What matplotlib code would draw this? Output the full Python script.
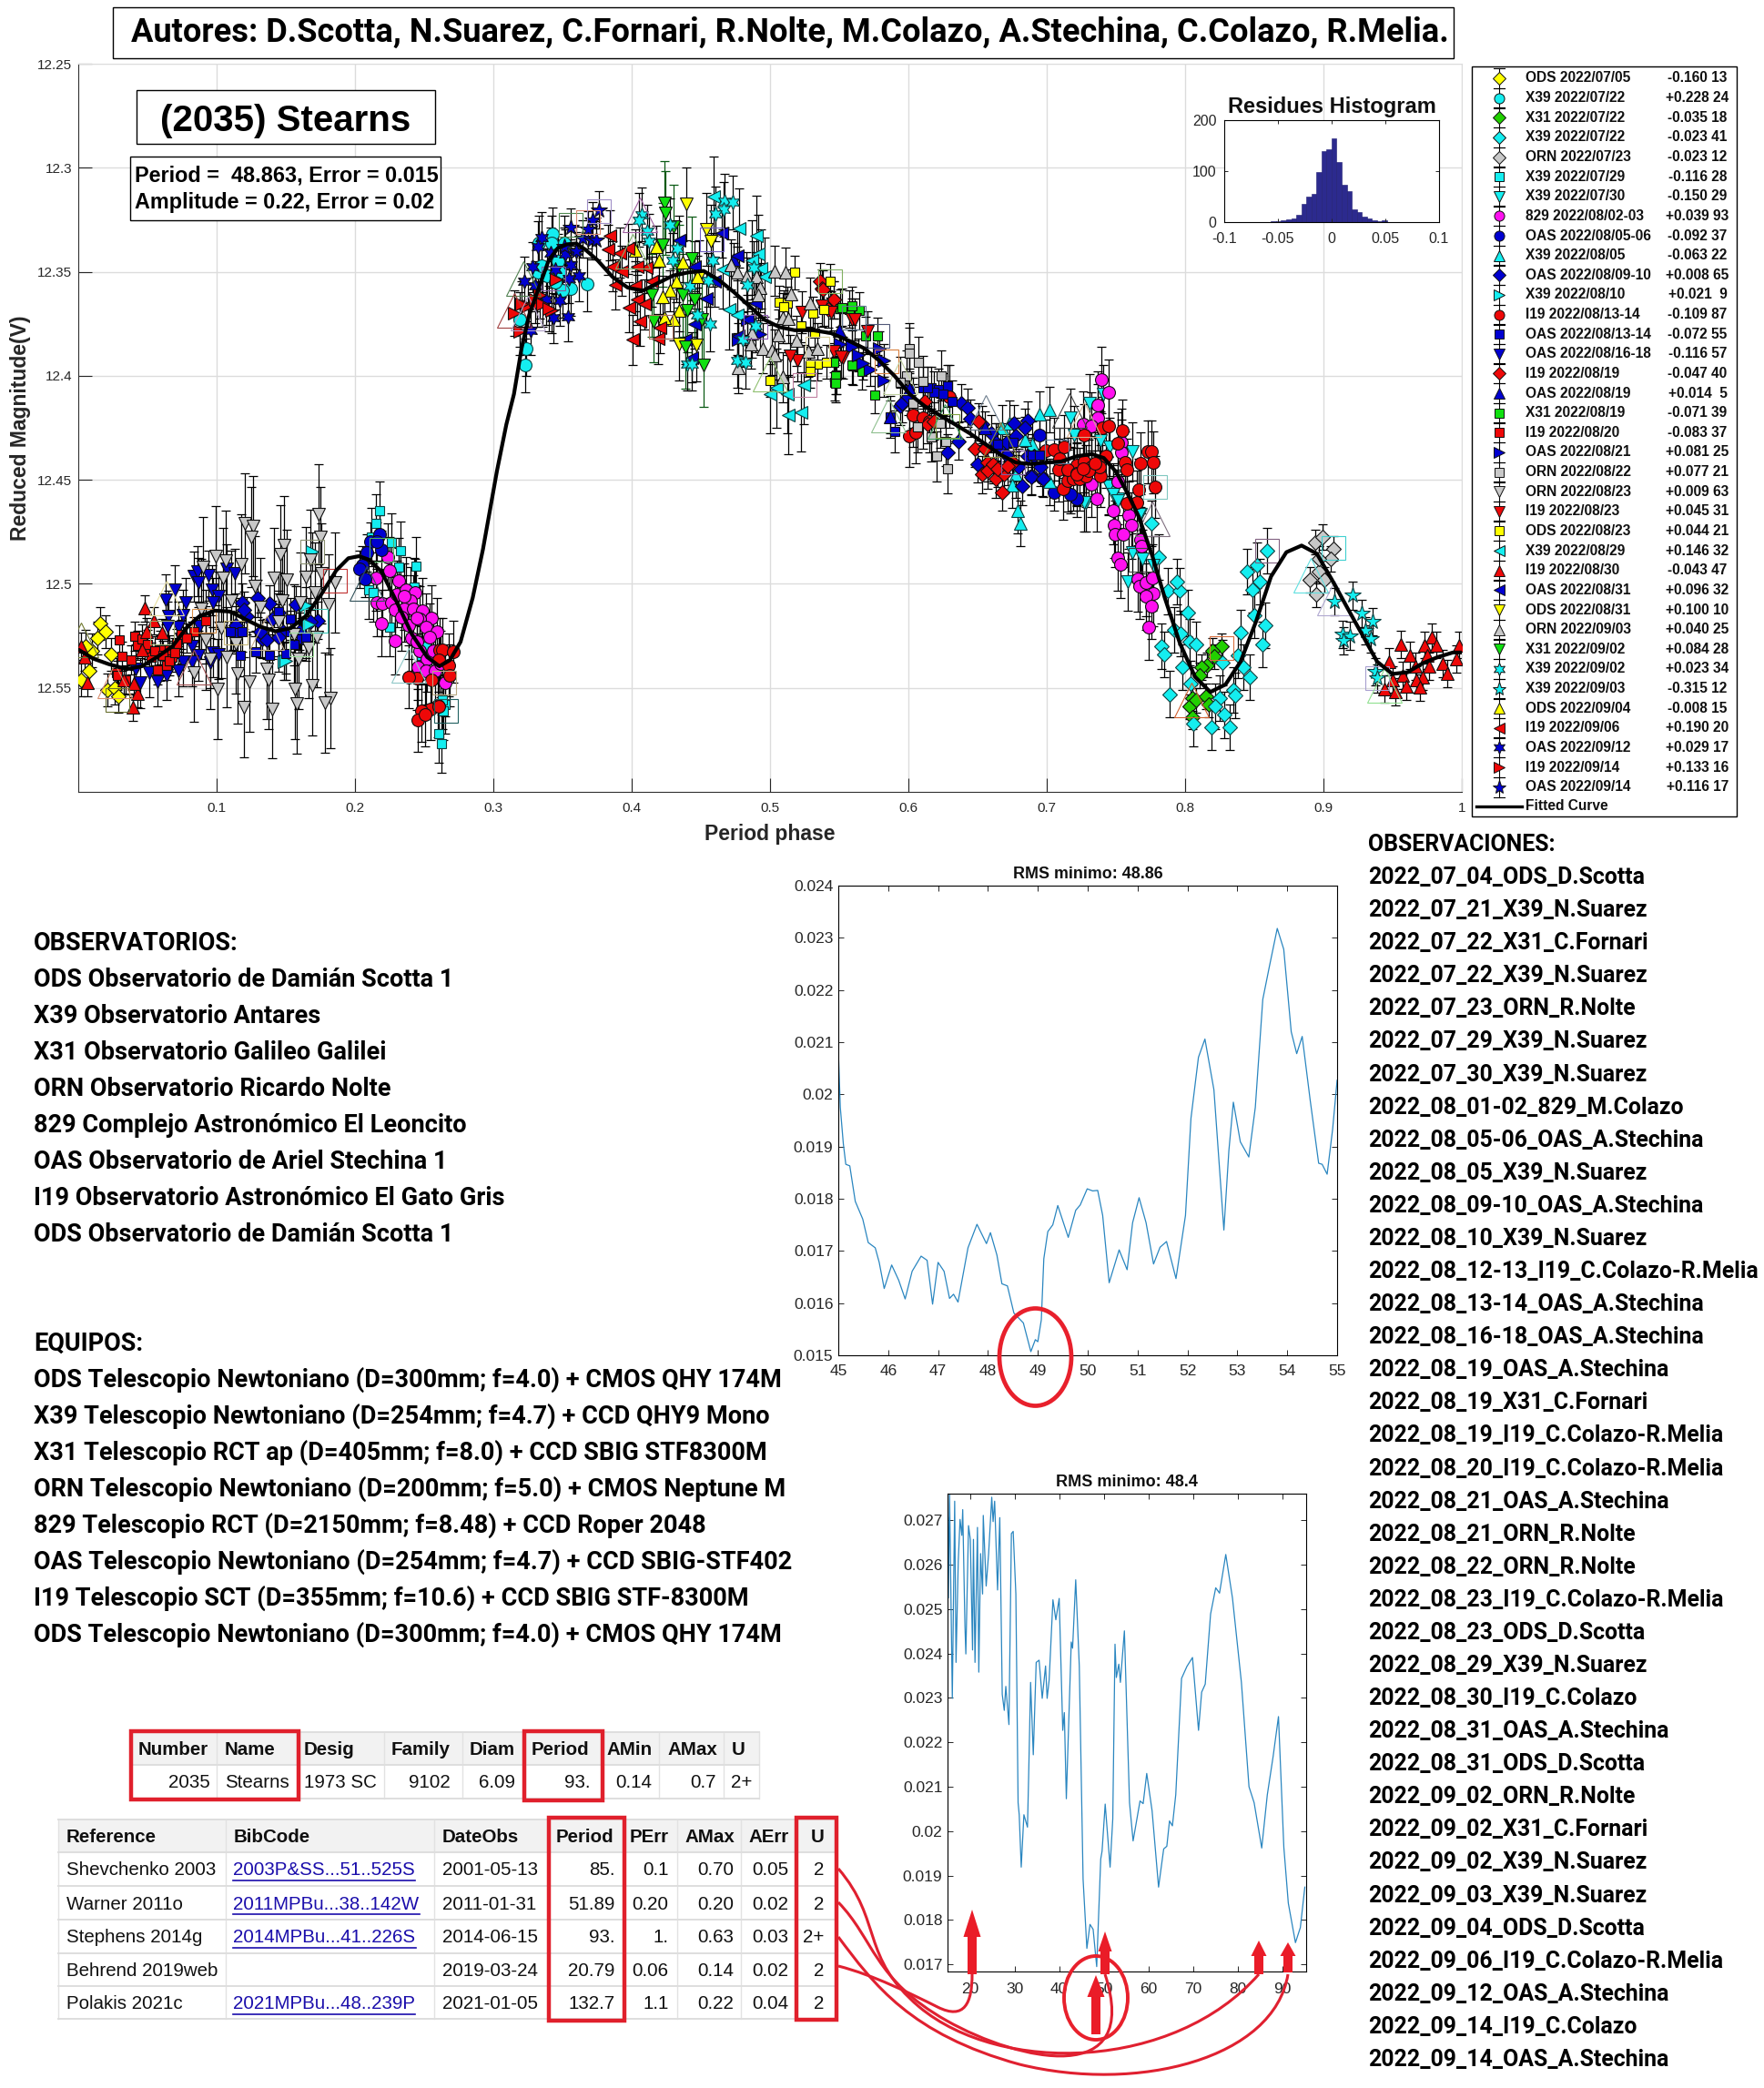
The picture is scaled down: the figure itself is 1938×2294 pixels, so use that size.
import numpy as np
import matplotlib
matplotlib.use("Agg")
import matplotlib.pyplot as plt
from matplotlib.patches import Rectangle, Ellipse, PathPatch, Polygon
from matplotlib.path import Path

W, H = 1938, 2294
SANS = ["Liberation Sans", "DejaVu Sans"]
NARROW = ["Roboto", "DejaVu Sans"]
plt.rcParams["font.family"] = SANS

# -----------------------------
# Lightcurve sessions (phase, reduced magnitude)
# -----------------------------
ods0705_x = [.016,.020,.014,.010,.024,.008,.002,.021,.026,.029,.005]
ods0705_y = [12.519,12.523,12.526,12.532,12.534,12.542,12.546,12.551,12.550,12.554,12.530]
x39a_x = [.323,.324,.368,.356,.350,.343,.342,.351,.333,.332,.335,.339,.347,.348,.345,.319]
x39a_y = [12.395,12.387,12.356,12.358,12.359,12.332,12.336,12.336,12.336,12.350,12.347,12.352,12.345,12.350,12.355,12.373]
x31a_x = [.8265,.820,.821,.816,.812,.8105,.805,.803,.808,.815,.817,.805]
x31a_y = [12.530,12.532,12.535,12.539,12.540,12.544,12.555,12.559,12.556,12.554,12.558,12.564]
x39b_x = [.7754,.781,.7875,.796,.794,.802,.792,.797,.803,.808,.783,.785,.798,.804,.789,.827,.838,.842,.847,.835,.836,.825,.822,.828,.806,.819,.832,.840,.850,.849,.854,.845,.852,.859,.858,.856]
x39b_y = [12.471,12.487,12.5035,12.5035,12.499,12.514,12.522,12.524,12.528,12.529,12.530,12.534,12.540,12.548,12.553,12.538,12.5345,12.540,12.545,12.551,12.5535,12.555,12.559,12.563,12.567,12.569,12.569,12.5235,12.515,12.503,12.499,12.494,12.491,12.484,12.520,12.529]
orn0723_x = [.894,.8995,.9075,.9055,.897,.9005,.890,.895,.897]
orn0723_y = [12.480,12.4775,12.483,12.488,12.494,12.498,12.498,12.505,12.488]
x39c_x = [.2175,.2154,.2116,.226,.233,.2314,.244,.243,.210,.2134,.225,.251,.248,.265,.263,.2606,.2625,.264]
x39c_y = [12.465,12.471,12.4775,12.480,12.484,12.492,12.4917,12.5016,12.503,12.504,12.5206,12.530,12.5345,12.558,12.556,12.572,12.577,12.561]
x39d_x = [.717,.731,.741,.720,.739,.7456,.762,.728,.7445,.748,.751,.7675,.727,.745,.748,.7515,.762,.769,.777,.7586,.767]
x39d_y = [12.420,12.413,12.409,12.4285,12.431,12.434,12.4365,12.461,12.4526,12.456,12.459,12.4665,12.461,12.453,12.457,12.460,12.485,12.488,12.491,12.499,12.4665]
m829_x = [.2237,.2248,.215,.2314,.216,.220,.226,.230,.237,.2434,.240,.229,.2357,.242,.249,.2555,.2467,.251,.2594,.239,.219,.2287,.241,.2467,.252,.2456,.251,.2577,.2654,.2355,.2445,.2335,.254,.2565,.2445,.262,
          .7395,.745,.737,.737,.726,.7325,.754,.754,.7325,.736,.751,.748,.759,.761,.749,.7496,.7555,.751,.7535,.7656,.767,.7715,.776,.777,.772,.7754,.774,.768,.7686]
m829_y = [12.487,12.4936,12.497,12.4987,12.509,12.5094,12.509,12.505,12.503,12.504,12.508,12.5126,12.512,12.512,12.513,12.5165,12.517,12.5206,12.523,12.520,12.519,12.5275,12.526,12.532,12.536,12.540,12.542,12.542,12.5477,12.506,12.5165,12.516,12.5255,12.532,12.528,12.5385,
          12.402,12.408,12.414,12.420,12.4234,12.424,12.432,12.437,12.452,12.459,12.451,12.465,12.467,12.472,12.4716,12.476,12.476,12.4874,12.4906,12.4975,12.501,12.4994,12.497,12.5045,12.506,12.5107,12.5206,12.479,12.482]
oas0805_x = [.2175,.211,.219,.2083,.205,.2033,.2072,.216,.6947,.705,.7215,.717,.6886,.697]
oas0805_y = [12.476,12.4797,12.4836,12.485,12.491,12.493,12.4975,12.4797,12.4285,12.456,12.459,12.457,12.448,12.449]
x39e_x = [.7018,.695,.6787,.681,.6897,.684,.668,.6732,.6776,.7018,.675]
x39e_y = [12.4164,12.4186,12.4646,12.471,12.433,12.4307,12.425,12.4227,12.4475,12.451,12.4526]
oas0809_x = [.1184,.1217,.1294,.138,.1447,.1327,.136,.157,.1732,.168,.148,.112,.114,.1195,.1316,.1404,.1447,.16,.5943,.650,.6765,.6864,.684,.6776,.6825,.6886,.6974,.628,.638,.6425,.636,.663,.671,.6864,.6667,.6798,.671,.6447,.6535,.66,.6908,.6952,.5954,.6]
oas0809_y = [12.509,12.5155,12.507,12.5096,12.5137,12.5265,12.527,12.51,12.5177,12.5184,12.5228,12.5228,12.5199,12.5126,12.5228,12.517,12.5257,12.5228,12.4146,12.4424,12.423,12.4215,12.425,12.429,12.453,12.4485,12.4494,12.437,12.413,12.4154,12.4314,12.432,12.438,12.4387,12.4336,12.4439,12.432,12.4205,12.4234,12.4278,12.4387,12.4439,12.4132,12.41]
x39f_x = [.169,.1487,.1667,.15,.1645]
x39f_y = [12.4845,12.5374,12.5196,12.537,12.5104]
i19a_x = [.261,.263,.271,.2605,.2675,.2686,.2555,.2445,.239,.26,.2544,.248,.2455,.2506,.2606,
          .6294,.6031,.6009,.605,.6107,.615,.6996,.705,.7127,.7083,.7116,.715,.7193,.7237,.728,.7215,.727,.7325,.7386,.738,.7425,.727,.74,.7445,.7544,.751,.7566,.7577,.768,.773,.7755,.777,.7785,.7665,.7654,.7577,.715,.722,.73,.735,.7215,.709,.726]
i19a_y = [12.5316,12.5316,12.5327,12.5367,12.539,12.544,12.546,12.5455,12.5447,12.5586,12.56,12.561,12.5656,12.563,12.559,
          12.41,12.419,12.429,12.427,12.42,12.422,12.436,12.4354,12.434,12.4453,12.4544,12.4504,12.4497,12.4497,12.4482,12.443,12.441,12.4439,12.4482,12.4439,12.4387,12.4285,12.425,12.424,12.4263,12.4325,12.4417,12.4453,12.442,12.4365,12.4365,12.4417,12.4534,12.4548,12.4607,12.4614,12.445,12.447,12.4455,12.442,12.4475,12.44,12.4445]
oas0813_x = [.1173,.128,.138,.15,.114,.1535,.161,.1645,.1557,.1447,.1096,.1184,.1535,.1645,.5866,.59,.6009,.6107,.6167,.6217,.6283,.625,.6645,.6897,.695,.6754,.6184,.614,.6316]
oas0813_y = [12.5345,12.5326,12.5345,12.5333,12.5235,12.517,12.5265,12.527,12.529,12.5133,12.5228,12.5228,12.5228,12.5257,12.4197,12.4268,12.4066,12.4056,12.4056,12.4066,12.4048,12.4088,12.433,12.438,12.438,12.432,12.408,12.4058,12.4124]
oas0816_x = [.0697,.0632,.0774,.065,.0757,.0833,.086,.0943,.0866,.0965,.101,.0976,.107,.113,.0724,.0822,.0866,.0976,.101,.0954,.0822,.0757,.0724,.0636,.057,.0515,.045,.0417,.0647,.0878,.0746,.0922,.0592]
oas0816_y = [12.503,12.5075,12.509,12.5155,12.515,12.4965,12.494,12.496,12.4994,12.503,12.506,12.509,12.493,12.495,12.5206,12.53,12.5345,12.533,12.5338,12.538,12.5374,12.5374,12.542,12.544,12.547,12.5425,12.5477,12.541,12.5205,12.5205,12.5265,12.5265,12.5345]
i19b_x = [.6507,.6535,.6678,.6634,.669,.657,.648,.6754,.5364,.5375,.5463,.5419,.5384,.5461,.655,.6575,.6615,.6645,.672,.6118,.614,.6184]
i19b_y = [12.422,12.4475,12.456,12.4497,12.4475,12.4417,12.435,12.4417,12.3547,12.358,12.3635,12.368,12.3583,12.3635,12.435,12.4455,12.4425,12.4445,12.4435,12.4124,12.4234,12.4219]
oas0819_x = [.4739,.5866,.6009,.55,.655]
oas0819_y = [12.344,12.4197,12.406,12.378,12.425]
x31b_x = [.5757,.569,.5776,.5596,.5662,.5465,.5478,.5509,.5643,.557,.5474,.5474,.5463,.5594,.5518,.5594]
x31b_y = [12.4092,12.3807,12.381,12.3953,12.3978,12.403,12.3996,12.3675,12.3686,12.368,12.40,12.4037,12.3934,12.395,12.3671,12.3664]
i19c_x = [.0296,.0406,.0428,.0318,.0384,.0274,.0285,.034,.0482,.0526,.068,.057,.0636,.0592,.0746,.0833,.0921,.0713,.0658,.046,.05,.055,.061,.066,.07,.078]
i19c_y = [12.5268,12.525,12.5294,12.5348,12.5367,12.5425,12.544,12.5462,12.5316,12.5352,12.5352,12.5415,12.539,12.5316,12.5243,12.5228,12.5177,12.5287,12.5316,12.5264,12.529,12.532,12.5345,12.537,12.533,12.526]
oas0821_x = [.579,.5822,.5724,.5822,.567,.5592,.5504,.5636,.4772,.4838,.4925]
oas0821_y = [12.3868,12.3927,12.397,12.4022,12.394,12.386,12.3846,12.39,12.3825,12.373,12.380]
orn0822_x = [.6009,.6004,.607,.5987,.6107,.6235,.6064,.6162,.6206,.6283,.6268,.6228,.603,.5943]
orn0822_y = [12.3868,12.389,12.3934,12.40,12.4026,12.40,12.4246,12.4292,12.4387,12.4446,12.4314,12.4227,12.413,12.403]
orn0823_x = [.1206,.1265,.125,.0993,.1068,.1178,.0904,.1048,.149,.1458,.1737,.1748,.1678,.1414,.1507,.1645,.1278,.1754,.1853,.171,.1107,.1474,.1607,.181,.1316,.0888,.1447,.103,.0921,.114,.1557,.1726,.1662,.0954,.1075,.159,.0833,.1364,.115,.1239,.1377,.1009,.1564,.1693,.182,.178,.158,.1195,.1404]
orn0823_y = [12.471,12.4724,12.4775,12.4865,12.489,12.4906,12.492,12.497,12.4816,12.486,12.4665,12.4775,12.4885,12.497,12.498,12.4968,12.5012,12.495,12.4994,12.5042,12.508,12.508,12.509,12.51,12.5114,12.512,12.5184,12.5213,12.527,12.5287,12.5243,12.5257,12.531,12.536,12.5352,12.536,12.5425,12.541,12.543,12.547,12.546,12.5506,12.5506,12.5488,12.555,12.557,12.5576,12.5594,12.56]
i19d_x = [.5594,.5529,.5463,.52,.5145,.5232,.5375,.5441,.561,.5515,.5702]
i19d_y = [12.373,12.3912,12.3883,12.3927,12.3905,12.3693,12.3664,12.3693,12.373,12.391,12.3788]
ods0823_x = [.5178,.5436,.5068,.5123,.51,.5309,.5386,.5221,.532,.5342,.541,.5287,.5287,.5002]
ods0823_y = [12.3503,12.3544,12.3646,12.365,12.367,12.37,12.368,12.3759,12.3795,12.3942,12.3934,12.3942,12.3978,12.4022]
x39g_x = [.4592,.4778,.4899,.4914,.487,.4936,.4958,.4658,.4702,.476,.5243,.5123,.5002,.5221,.5134,.5046]
x39g_y = [12.3137,12.3291,12.3325,12.3415,12.3444,12.3485,12.3525,12.3488,12.3683,12.3708,12.4044,12.4088,12.4088,12.4175,12.4187,12.4058]
i19e_x = [.9557,.9476,.9623,.9783,.9728,.9816,.9981,.975,.9662,.9859,.9958,.9893,.976,.9575,.9717,.9673,.9695,.9596,.9498,.9443,.952,
          .0482,.0548,.0603,.0493,.046,.0022,.0044,.0066,.0329,.0428,.0395,.04]
i19e_y = [12.5291,12.5374,12.5345,12.5257,12.5294,12.5294,12.5294,12.5345,12.5396,12.5382,12.536,12.543,12.5396,12.544,12.5447,12.546,12.5499,12.5494,12.546,12.5506,12.552,
          12.5118,12.5177,12.5235,12.5228,12.5316,12.53,12.5352,12.5477,12.5462,12.5528,12.5594,12.548]
oas0831_x = [.4344,.4651,.4761,.4454,.4542,.4596,.4454,.4388,.4772,.4893,.4838,.4432]
oas0831_y = [12.335,12.3313,12.3423,12.3474,12.3627,12.3547,12.3751,12.3825,12.381,12.365,12.373,12.3912]
ods0831_x = [.4393,.4542,.4575,.4344,.4465,.4487]
ods0831_y = [12.3174,12.3295,12.3354,12.3846,12.3854,12.3525]
orn0903_x = [.5031,.5112,.4717,.4765,.4827,.4904,.4925,.4914,.5151,.5287,.509,.5134,.487,.486,.4947,.5013,.5057,.5035,.5189,.5276,.5342,.4772,.509]
orn0903_y = [12.3496,12.3503,12.3466,12.35,12.3525,12.3525,12.3576,12.3613,12.3608,12.3649,12.3722,12.3725,12.3795,12.3846,12.3868,12.3876,12.3803,12.3898,12.3832,12.3883,12.3868,12.3963,12.4007]
x31c_x = [.4235,.4246,.43,.4224,.4432,.4344,.4147,.4366,.4454,.4399,.4388,.452,.4158,.4509]
x31c_y = [12.317,12.3218,12.3284,12.3371,12.3437,12.3474,12.3613,12.3613,12.3635,12.3686,12.3861,12.3949,12.3737,12.373]
x39h_x = [.407,.4055,.4114,.4125,.4279,.4294,.4673,.4732,.4662,.4603,.4327,.4421,.4553,.4586,.4838,.4882,.4893,.4805,.4564,.4476,.4399,.4436,.4765,.4822]
x39h_y = [12.3225,12.3251,12.3306,12.3354,12.3276,12.3444,12.3159,12.3167,12.32,12.3222,12.3386,12.3569,12.354,12.3444,12.3561,12.3481,12.3759,12.3825,12.3751,12.3708,12.3942,12.3942,12.3927,12.3934]
x39i_x = [.9077,.9208,.9278,.9355,.93,.934,.9136,.9191,.9147,.9373,.9388]
x39i_y = [12.5085,12.5057,12.5143,12.5181,12.5225,12.5265,12.5243,12.525,12.5272,12.5423,12.5455]
ods0904_x = [.4026,.418,.4197,.4322,.4279,.4224,.434,.43,.4235,.4366,.4476]
ods0904_y = [12.3398,12.3379,12.3444,12.3547,12.3591,12.362,12.3686,12.373,12.3722,12.3452,12.3525]
i19f_x = [.384,.3829,.3971,.3917,.3862,.4103,.4037,.3928,.3884,.4026,.4037,.3982,.4092,.4059,.4202,.4004,.4191,.4147]
i19f_y = [12.3325,12.3393,12.339,12.3408,12.3474,12.3481,12.3477,12.3496,12.3561,12.3569,12.3635,12.3671,12.3656,12.3737,12.377,12.3827,12.3822,12.3547]
oas0912_x = [.3346,.3325,.3412,.3522,.3599,.3281,.3221,.3303,.3559,.3621,.3544,.3478,.3379,.3434,.3537,.327,.3445]
oas0912_y = [12.3335,12.3379,12.3408,12.3415,12.3401,12.3477,12.3547,12.3569,12.3466,12.352,12.3532,12.3639,12.3635,12.3722,12.3715,12.3781,12.3488]
i19g_x = [.3149,.3193,.3248,.3204,.3314,.3336,.3423,.3456,.3303,.3357,.3401]
i19g_y = [12.37,12.3788,12.3664,12.3656,12.3656,12.3613,12.3686,12.3539,12.3635,12.3656,12.3678]
oas0914_x = [.3559,.3763,.3719,.3682,.3642,.3708,.3741,.3599,.351]
oas0914_y = [12.3287,12.3203,12.3254,12.3298,12.3342,12.3349,12.3349,12.34,12.3379]

legend_names = ["ODS 2022/07/05","X39 2022/07/22","X31 2022/07/22","X39 2022/07/22","ORN 2022/07/23","X39 2022/07/29","X39 2022/07/30",
                "829 2022/08/02-03","OAS 2022/08/05-06","X39 2022/08/05","OAS 2022/08/09-10","X39 2022/08/10","I19 2022/08/13-14",
                "OAS 2022/08/13-14","OAS 2022/08/16-18","I19 2022/08/19","OAS 2022/08/19","X31 2022/08/19","I19 2022/08/20","OAS 2022/08/21",
                "ORN 2022/08/22","ORN 2022/08/23","I19 2022/08/23","ODS 2022/08/23","X39 2022/08/29","I19 2022/08/30","OAS 2022/08/31",
                "ODS 2022/08/31","ORN 2022/09/03","X31 2022/09/02","X39 2022/09/02","X39 2022/09/03","ODS 2022/09/04","I19 2022/09/06",
                "OAS 2022/09/12","I19 2022/09/14","OAS 2022/09/14"]
legend_vals = ["-0.160 13","+0.228 24","-0.035 18","-0.023 41","-0.023 12","-0.116 28","-0.150 29","+0.039 93","-0.092 37","-0.063 22",
               "+0.008 65","+0.021  9","-0.109 87","-0.072 55","-0.116 57","-0.047 40","+0.014  5","-0.071 39","-0.083 37","+0.081 25",
               "+0.077 21","+0.009 63","+0.045 31","+0.044 21","+0.146 32","-0.043 47","+0.096 32","+0.100 10","+0.040 25","+0.084 28",
               "+0.023 34","-0.315 12","-0.008 15","+0.190 20","+0.029 17","+0.133 16","+0.116 17"]
session_x = [ods0705_x,x39a_x,x31a_x,x39b_x,orn0723_x,x39c_x,x39d_x,m829_x,oas0805_x,x39e_x,oas0809_x,x39f_x,i19a_x,oas0813_x,oas0816_x,i19b_x,oas0819_x,
             x31b_x,i19c_x,oas0821_x,orn0822_x,orn0823_x,i19d_x,ods0823_x,x39g_x,i19e_x,oas0831_x,ods0831_x,orn0903_x,x31c_x,x39h_x,x39i_x,ods0904_x,i19f_x,oas0912_x,i19g_x,oas0914_x]
session_y = [ods0705_y,x39a_y,x31a_y,x39b_y,orn0723_y,x39c_y,x39d_y,m829_y,oas0805_y,x39e_y,oas0809_y,x39f_y,i19a_y,oas0813_y,oas0816_y,i19b_y,oas0819_y,
             x31b_y,i19c_y,oas0821_y,orn0822_y,orn0823_y,i19d_y,ods0823_y,x39g_y,i19e_y,oas0831_y,ods0831_y,orn0903_y,x31c_y,x39h_y,x39i_y,ods0904_y,i19f_y,oas0912_y,i19g_y,oas0914_y]
session_err = [.008,.013,.006,.011,.006,.014,.014,.016,.009,.011,.009,.009,.015,.010,.012,.009,.008,.009,.007,.008,.012,.024,.010,.008,.019,.0065,.012,.0175,.012,.020,.013,.0066,.010,.012,.012,.011,.009]
session_marker = ["D","o","D","D","D","s","v","o","o","^","D",">","o","s","v","D","^","s","s",">","s","v","v","s","<","^","<","v","^","v",(6,1,0),"*","^","<",(6,1,0),">","*"]
YEL, CYA, GRN, MAG, BLU, RED, GRY = "#FFFF00", "#14EEF0", "#22D000", "#FF10F0", "#0000D0", "#EE0808", "#C8C8C8"
session_color = [YEL,CYA,GRN,CYA,GRY,CYA,CYA,MAG,BLU,CYA,BLU,CYA,RED,BLU,BLU,RED,BLU,"#10E010",RED,BLU,GRY,GRY,RED,YEL,CYA,RED,BLU,YEL,GRY,"#10E010",CYA,CYA,YEL,RED,BLU,RED,BLU]

# big thin open markers at the start of each session
open_sq_x = [.0603,.091,.114,.169,.1853,.172,.161,.219,.2647,.2658,.0285,.3559,.3686,.3763,.3434,.4208,.4581,.4893,.5436,.5248,.5342,.5603,.5776,.584,.6283,.6754,.7072,.7785,.859,.9075,.7677,.8263,.9388]
open_sq_y = [12.5235,12.5177,12.5235,12.4845,12.4987,12.5177,12.529,12.4836,12.5477,12.561,12.556,12.3276,12.3262,12.3208,12.3532,12.3766,12.3346,12.3766,12.3544,12.4044,12.3868,12.3719,12.381,12.393,12.4241,12.4417,12.4363,12.4534,12.484,12.4826,12.4885,12.531,12.5452]
open_sq_c = ["#9aa86a","#d8904a","#c8b878","#8a9070","#c03030","#40c8b8","#a0e0a0","#50b060","#b8a880","#206060","#6a7030","#508a50","#d88a70","#a090c8","#8060a0","#a87060","#7060c0","#9060b0","#80b060","#c080a0","#d8d0a0","#607890","#505878","#d88040","#80a040","#8060a0","#6080a0","#80c8c0","#806080","#40d0d0","#404040","#d87040","#a8a0d0"]
open_tr_x = [.002,.0263,.0636,.0833,.136,.2083,.239,.4059,.3215,.3149,.3248,.4004,.5002,.5855,.5943,.6557,.6667,.6261,.7167,.7272,.776,.8046,.8906,.9081,.9443]
open_tr_y = [12.527,12.5465,12.507,12.54,12.5235,12.5,12.539,12.3225,12.3532,12.3686,12.37,12.34,12.3993,12.419,12.4007,12.4175,12.4307,12.422,12.4168,12.4212,12.4687,12.556,12.4958,12.5067,12.549]
open_tr_c = ["#707830","#d89070","#e8e0a0","#a05050","#c8b090","#305058","#90c8c8","#a060a0","#508050","#a04040","#b0a0c8","#80b070","#90c070","#90c090","#c0d0a0","#708090","#8a9040","#40a060","#404040","#d0b090","#807080","#d06030","#60e0e0","#b0a8d0","#90e090"]

# fitted curve
fit_x = [0,.011,.022,.035,.046,.057,.068,.079,.0877,.0987,.1096,.1206,.1316,.1425,.1535,.1645,.1754,.1864,.1952,.2029,.2105,.2193,.2303,.2412,.2522,.261,.2686,.2763,.2851,.2925,.3026,.3094,.3149,.3204,.3259,.3325,.3401,.3467,.3533,.3599,.3664,.3752,.3862,.3971,.4081,.4191,.43,.441,.452,.4629,.4739,.4849,.4958,.5068,.5178,.5309,.5441,.5572,.568,.5789,.5899,.6009,.6118,.6228,.6338,.6447,.6557,.6667,.6776,.6886,.6996,.7105,.7215,.7325,.7412,.75,.7588,.7667,.7765,.7853,.7963,.8072,.8182,.8292,.8401,.8511,.8621,.8732,.8842,.8952,.9061,.9169,.9279,.9388,.9498,.9608,.9717,.9827,.9936,1]
fit_y = [12.5316,12.536,12.5386,12.541,12.5396,12.5352,12.5301,12.5206,12.5155,12.5129,12.5133,12.517,12.5206,12.5228,12.5213,12.5155,12.5053,12.4936,12.4877,12.4867,12.4885,12.4943,12.5089,12.5243,12.5352,12.5396,12.5367,12.5279,12.5067,12.4834,12.4458,12.4234,12.4088,12.3868,12.3708,12.3583,12.3444,12.3386,12.3368,12.3364,12.3393,12.3444,12.3525,12.3576,12.3591,12.3554,12.3518,12.3503,12.3496,12.3539,12.3598,12.3664,12.373,12.3766,12.3781,12.3781,12.3795,12.3832,12.3868,12.3927,12.40,12.4088,12.4146,12.419,12.4234,12.4278,12.4329,12.438,12.4417,12.4424,12.4417,12.4412,12.4387,12.4376,12.4395,12.4461,12.457,12.468,12.487,12.5067,12.5287,12.5447,12.552,12.5484,12.5374,12.5184,12.4965,12.4848,12.4816,12.4855,12.498,12.5111,12.5243,12.5374,12.5433,12.5425,12.5382,12.5352,12.533,12.533]

# residual histogram
hist_centers = [-.0541,-.0494,-.0447,-.0400,-.0353,-.0306,-.0259,-.0212,-.0165,-.0118,-.0071,-.0024,.0023,.0070,.0117,.0164,.0211,.0258,.0305,.0352,.0399,.0446,.0493]
hist_counts = [1,2,3,5,8,14,35,50,55,98,140,142,165,117,74,60,25,20,11,7,4,2,4]

# RMS scans
rms1_p = [45,45.04,45.1,45.15,45.23,45.34,45.49,45.6,45.74,45.82,45.92,46.07,46.21,46.34,46.48,46.66,46.78,46.89,47,47.12,47.23,47.31,47.4,47.6,47.78,47.97,48.05,48.18,48.28,48.39,48.52,48.71,48.86,48.95,49,49.07,49.12,49.2,49.3,49.4,49.61,49.76,49.85,49.99,50.1,50.2,50.3,50.43,50.63,50.79,50.9,51.03,51.17,51.32,51.45,51.58,51.77,51.96,52.07,52.22,52.35,52.53,52.73,52.83,52.92,53.06,53.23,53.36,53.51,53.64,53.8,53.93,54.08,54.19,54.3,54.46,54.63,54.7,54.8,54.91,55]
rms1_v = [.02085,.01975,.01906,.01866,.01863,.01795,.01761,.01716,.01706,.01678,.01628,.01673,.01644,.01608,.01661,.0169,.01682,.01598,.01678,.01661,.01609,.01617,.01602,.01706,.01751,.01714,.01735,.01692,.01637,.01633,.01581,.01562,.01507,.0153,.01526,.01568,.01685,.01737,.0175,.01787,.01726,.01778,.01788,.01819,.01815,.01816,.01768,.01639,.01702,.01664,.01754,.01802,.01754,.01675,.01707,.01718,.01647,.01768,.01954,.02071,.02106,.02009,.0174,.01892,.01985,.01909,.0188,.01975,.02182,.02244,.02318,.02278,.0212,.02078,.02111,.01989,.01868,.01866,.01847,.01933,.02027]
rms2_p = [15.1,15.2,15.45,16.07,16.6,16.9,17.4,17.8,18.2,18.4,18.9,19.1,19.7,20.1,20.6,20.8,21.15,21.7,22,22.4,22.85,23,23.65,24.2,24.9,25.2,25.55,26.2,26.7,27.25,27.7,28.05,28.75,29.3,29.7,30.3,30.8,31.05,31.5,32.1,32.9,33.15,33.6,34.2,34.85,35.5,36.2,36.95,37.3,37.75,38.6,39.25,40,40.8,41.15,41.6,42.7,43,43.7,44.5,45.35,46.2,46.9,47.6,48.4,49.3,49.6,50.3,51.4,52,52.5,52.8,53.35,53.7,54.6,55.75,56.55,58.1,58.8,59.6,60.8,62.25,63.4,64.1,64.7,65.35,66.1,67.4,68.6,69.85,71.2,71.9,72.7,73.9,75.05,75.9,77.3,78.8,80.8,82.5,83.65,85.35,86.6,87.9,89.1,90.3,91.3,92.9,94,95]
rms2_v = [.02706,.02525,.0276,.02299,.02743,.0238,.02607,.02702,.02666,.02724,.02462,.02399,.02688,.02657,.02408,.02657,.0238,.02684,.02358,.02625,.02534,.02711,.02552,.02625,.02752,.02697,.02743,.02543,.02706,.02308,.02272,.02326,.0224,.0267,.02675,.02534,.02064,.02037,.01919,.02037,.02009,.02118,.02335,.02172,.0238,.02385,.02299,.02372,.02299,.0234,.02521,.02476,.02524,.02227,.02267,.02073,.02426,.02412,.02566,.02372,.01892,.01736,.0179,.01779,.01695,.01937,.01955,.02061,.01919,.02028,.02421,.02346,.02376,.02335,.02451,.02064,.01978,.02068,.02062,.0213,.02046,.01874,.0196,.01966,.02023,.02012,.02082,.02344,.02371,.02391,.02227,.02313,.02331,.02489,.02548,.02536,.02623,.02525,.02335,.021,.02064,.01962,.02082,.02168,.02258,.01964,.01838,.01749,.01783,.01874]

# text blocks
observatorios = ["OBSERVATORIOS:","ODS Observatorio de Damián Scotta 1","X39 Observatorio Antares","X31 Observatorio Galileo Galilei","ORN Observatorio Ricardo Nolte",
                 "829 Complejo Astronómico El Leoncito","OAS Observatorio de Ariel Stechina 1","I19 Observatorio Astronómico El Gato Gris","ODS Observatorio de Damián Scotta 1"]
equipos = ["EQUIPOS:","ODS Telescopio Newtoniano (D=300mm; f=4.0) + CMOS QHY 174M","X39 Telescopio Newtoniano (D=254mm; f=4.7) + CCD QHY9 Mono",
           "X31 Telescopio RCT ap (D=405mm; f=8.0) + CCD SBIG STF8300M","ORN Telescopio Newtoniano (D=200mm; f=5.0) + CMOS Neptune M",
           "829 Telescopio RCT (D=2150mm; f=8.48) + CCD Roper 2048","OAS Telescopio Newtoniano (D=254mm; f=4.7) + CCD SBIG-STF402",
           "I19 Telescopio SCT (D=355mm; f=10.6) + CCD SBIG STF-8300M","ODS Telescopio Newtoniano (D=300mm; f=4.0) + CMOS QHY 174M"]
observaciones = ["OBSERVACIONES:","2022_07_04_ODS_D.Scotta","2022_07_21_X39_N.Suarez","2022_07_22_X31_C.Fornari","2022_07_22_X39_N.Suarez","2022_07_23_ORN_R.Nolte",
                 "2022_07_29_X39_N.Suarez","2022_07_30_X39_N.Suarez","2022_08_01-02_829_M.Colazo","2022_08_05-06_OAS_A.Stechina","2022_08_05_X39_N.Suarez",
                 "2022_08_09-10_OAS_A.Stechina","2022_08_10_X39_N.Suarez","2022_08_12-13_I19_C.Colazo-R.Melia","2022_08_13-14_OAS_A.Stechina","2022_08_16-18_OAS_A.Stechina",
                 "2022_08_19_OAS_A.Stechina","2022_08_19_X31_C.Fornari","2022_08_19_I19_C.Colazo-R.Melia","2022_08_20_I19_C.Colazo-R.Melia","2022_08_21_OAS_A.Stechina",
                 "2022_08_21_ORN_R.Nolte","2022_08_22_ORN_R.Nolte","2022_08_23_I19_C.Colazo-R.Melia","2022_08_23_ODS_D.Scotta","2022_08_29_X39_N.Suarez","2022_08_30_I19_C.Colazo",
                 "2022_08_31_OAS_A.Stechina","2022_08_31_ODS_D.Scotta","2022_09_02_ORN_R.Nolte","2022_09_02_X31_C.Fornari","2022_09_02_X39_N.Suarez","2022_09_03_X39_N.Suarez",
                 "2022_09_04_ODS_D.Scotta","2022_09_06_I19_C.Colazo-R.Melia","2022_09_12_OAS_A.Stechina","2022_09_14_I19_C.Colazo","2022_09_14_OAS_A.Stechina"]

# tables
t1_head = ["Number","Name","Desig","Family","Diam","Period","AMin","AMax","U"]
t1_row = ["2035","Stearns","1973 SC","9102","6.09","93.","0.14","0.7","2+"]
t2_head = ["Reference","BibCode","DateObs","Period","PErr","AMax","AErr","U"]
t2_rows = [["Shevchenko 2003","2003P&SS...51..525S","2001-05-13","85.","0.1","0.70","0.05","2"],
           ["Warner 2011o","2011MPBu...38..142W","2011-01-31","51.89","0.20","0.20","0.02","2"],
           ["Stephens 2014g","2014MPBu...41..226S","2014-06-15","93.","1.","0.63","0.03","2+"],
           ["Behrend 2019web","","2019-03-24","20.79","0.06","0.14","0.02","2"],
           ["Polakis 2021c","2021MPBu...48..239P","2021-01-05","132.7","1.1","0.22","0.04","2"]]


def px_axes(fig, l, r, t, b):
    return fig.add_axes([l / W, 1 - b / H, (r - l) / W, (b - t) / H])


fig = plt.figure(figsize=(W / 100, H / 100), dpi=100, facecolor="white")

# -----------------------------
# 1. Main lightcurve
# -----------------------------
ax = px_axes(fig, 86, 1606, 70, 870)
ax.set_xlim(0, 1)
ax.set_ylim(12.6, 12.25)
ax.grid(True, color="#dcdcdc", lw=1)
ax.set_axisbelow(True)
for i in range(len(session_x)):
    ax.errorbar(session_x[i], session_y[i], yerr=session_err[i], fmt="none", ecolor="#0a5a14" if i == 29 else "black",
                elinewidth=0.9, capsize=3.9, capthick=0.9, zorder=2 + i * 0.01)
    m = session_marker[i]
    ms = {"D": 8.4, "o": 10, "s": 7.8, "^": 10.5, "v": 10.5, "<": 10.5, ">": 10.5, "*": 13}.get(m, 11.5) if isinstance(m, str) else 11.5
    ax.plot(session_x[i], session_y[i], ls="none", marker=m, ms=ms, mfc=session_color[i], mec="#101010" if session_color[i] != CYA else "#104040", mew=0.8, zorder=3 + i * 0.01)
for xx, yy, cc in zip(open_sq_x, open_sq_y, open_sq_c):
    ax.plot([xx], [yy], ls="none", marker="s", ms=18.5, mfc="none", mec=cc, mew=0.8, zorder=4)
for xx, yy, cc in zip(open_tr_x, open_tr_y, open_tr_c):
    ax.plot([xx], [yy], ls="none", marker="^", ms=27, mfc="none", mec=cc, mew=0.8, zorder=4)
ax.plot(fit_x, fit_y, color="black", lw=3, zorder=5, solid_capstyle="round")
ax.set_xticks([.1, .2, .3, .4, .5, .6, .7, .8, .9, 1])
ax.set_xticklabels(["0.1", "0.2", "0.3", "0.4", "0.5", "0.6", "0.7", "0.8", "0.9", "1"])
ax.set_yticks([12.25, 12.3, 12.35, 12.4, 12.45, 12.5, 12.55])
ax.set_yticklabels(["12.25", "12.3", "12.35", "12.4", "12.45", "12.5", "12.55"])
ax.tick_params(axis="x", direction="in", length=10.5, width=0.8, colors="#262626", labelsize=11, pad=8)
ax.tick_params(axis="y", direction="in", length=10.5, width=0.8, colors="#262626", labelsize=11, pad=5)
ax.spines["top"].set_color("#dcdcdc")
ax.spines["right"].set_color("#dcdcdc")
ax.spines["left"].set_color("#303030")
ax.spines["bottom"].set_color("#303030")
ax.set_xlabel("Period phase", fontweight="bold", fontsize=16.5, color="#262626", labelpad=7)
ax.set_ylabel("Reduced Magnitude(V)", fontweight="bold", fontsize=16.5, color="#262626", labelpad=5)

# -----------------------------
# 2. Residues histogram inset
# -----------------------------
axh = px_axes(fig, 1345, 1581, 132, 244)
axh.bar(hist_centers, hist_counts, width=.0047, color="#2c2a8e", edgecolor="#1c1a70", lw=0.4)
axh.set_xlim(-.1, .1)
axh.set_ylim(0, 200)
axh.set_xticks([-.1, -.05, 0, .05, .1])
axh.set_xticklabels(["-0.1", "-0.05", "0", "0.05", "0.1"])
axh.set_yticks([0, 100, 200])
axh.tick_params(axis="x", direction="in", length=3, width=0.7, colors="#262626", labelsize=11.5, pad=8, top=True)
axh.tick_params(axis="y", direction="in", length=3, width=0.7, colors="#262626", labelsize=11.5, pad=6, right=True)
axh.set_title("Residues Histogram", fontweight="bold", fontsize=17, color="#101010", pad=6)
axh.set_zorder(6)

# -----------------------------
# 3. RMS scans
# -----------------------------
ax1 = px_axes(fig, 921, 1469, 973, 1489)
ax1.plot(rms1_p, rms1_v, color="#2a86c0", lw=0.9)
ax1.set_xlim(45, 55)
ax1.set_ylim(.015, .024)
ax1.set_xticks(range(45, 56))
ax1.set_yticks([.015, .016, .017, .018, .019, .02, .021, .022, .023, .024])
ax1.set_yticklabels(["0.015", "0.016", "0.017", "0.018", "0.019", "0.02", "0.021", "0.022", "0.023", "0.024"])
ax1.tick_params(axis="x", direction="in", length=4, width=0.7, colors="#262626", labelsize=12.5, top=True, pad=7)
ax1.tick_params(axis="y", direction="in", length=4, width=0.7, colors="#262626", labelsize=12.5, right=True, pad=4)
ax1.set_title("RMS minimo: 48.86", fontweight="bold", fontsize=12.9, color="#101010", pad=6)

ax2 = px_axes(fig, 1041, 1435, 1641, 2166)
ax2.plot(rms2_p, rms2_v, color="#2a86c0", lw=0.9)
ax2.set_xlim(15, 95.3)
ax2.set_ylim(.01684, .0276)
ax2.set_xticks(range(20, 100, 10))
ax2.set_yticks([.017, .018, .019, .02, .021, .022, .023, .024, .025, .026, .027])
ax2.set_yticklabels(["0.017", "0.018", "0.019", "0.02", "0.021", "0.022", "0.023", "0.024", "0.025", "0.026", "0.027"])
ax2.tick_params(axis="x", direction="in", length=4, width=0.7, colors="#262626", labelsize=12.5, top=True, pad=9)
ax2.tick_params(axis="y", direction="in", length=4, width=0.7, colors="#262626", labelsize=12.5, right=True, pad=4)
ax2.set_title("RMS minimo: 48.4", fontweight="bold", fontsize=13, color="#101010", pad=6)

# -----------------------------
# 4. Overlay in pixel coordinates: boxes, legend, text, tables, red marks
# -----------------------------
ov = fig.add_axes([0, 0, 1, 1], zorder=10)
ov.set_xlim(0, W)
ov.set_ylim(H, 0)
ov.axis("off")
ov.patch.set_alpha(0)


def box(l, r, t, b, ec="black", lw=1.0, fc="white", z=1):
    ov.add_patch(Rectangle((l, t), r - l, b - t, fc=fc, ec=ec, lw=lw, zorder=z))


box(124, 1597, 8, 64)
ov.text(868, 36, "Autores: D.Scotta, N.Suarez, C.Fornari, R.Nolte, M.Colazo, A.Stechina, C.Colazo, R.Melia.",
        family=NARROW, fontweight="bold", fontsize=26.1, ha="center", va="center", zorder=2)
box(150, 478, 99, 158)
ov.text(314, 133, "(2035) Stearns", fontweight="bold", fontsize=29, ha="center", va="center", zorder=2)
box(143, 484, 172, 242)
ov.text(148, 193, "Period =  48.863, Error = 0.015", fontweight="bold", fontsize=16.8, ha="left", va="center", zorder=2)
ov.text(148, 223, "Amplitude = 0.22, Error = 0.02", fontweight="bold", fontsize=16.8, ha="left", va="center", zorder=2)

# legend
box(1617, 1908, 73, 897)
for i, name in enumerate(legend_names):
    yy = 86 + i * 21.63
    ov.plot([1647, 1647], [yy - 11, yy + 11], color="black", lw=0.8, zorder=2)
    ov.plot([1641, 1653], [yy - 11, yy - 11], color="black", lw=0.8, zorder=2)
    ov.plot([1641, 1653], [yy + 11, yy + 11], color="black", lw=0.8, zorder=2)
    m = session_marker[i]
    ms = {"D": 7.5, "o": 8, "s": 6.5, "^": 9, "v": 9, "<": 9, ">": 9, "*": 11}.get(m, 10) if isinstance(m, str) else 10
    ov.plot([1647], [yy], ls="none", marker=m, ms=ms, mfc=session_color[i], mec="#101010", mew=0.7, zorder=3)
    ov.text(1676, yy, name, fontweight="bold", fontsize=11.2, color="#101010", ha="left", va="center", zorder=3)
    ov.text(1865, yy, legend_vals[i], fontweight="bold", fontsize=11.2, color="#101010", ha="center", va="center", zorder=3)
ov.plot([1622, 1672], [886, 886], color="black", lw=2.4, zorder=3)
ov.text(1676, 886, "Fitted Curve", fontweight="bold", fontsize=11.2, color="#101010", ha="left", va="center", zorder=3)

# side text
for i, s in enumerate(observatorios):
    ov.text(37, 1036 + i * 40, s, family=NARROW, fontweight="bold", fontsize=19.5, ha="left", va="center")
for i, s in enumerate(equipos):
    ov.text(37, 1476 + i * 40, s, family=NARROW, fontweight="bold", fontsize=19.5, ha="left", va="center")
for i, s in enumerate(observaciones):
    ov.text(1503, 928 + i * 36.08, s, family=NARROW, fontweight="bold", fontsize=17.9, ha="left", va="center")

# first table
t1_edges = [144.5, 238, 329, 422, 508, 577, 661, 724, 795, 834.5]
t1_head_x = [152, 246.6, 334, 430, 516, 584, 666, 733, 803.5]
t1_val_x = [230.6, 246.6, 334, 495, 566, 648.5, 716, 787, 803.5]
t1_val_ha = ["right", "left", "left", "right", "right", "right", "right", "right", "left"]
ov.add_patch(Rectangle((144.5, 1903), 690, 36, fc="#f2f2f2", ec="none", zorder=1))
for xx in t1_edges:
    ov.plot([xx, xx], [1903, 1976], color="#e2e2e2", lw=1, zorder=1)
for yy in [1903, 1939, 1976]:
    ov.plot([144.5, 834.5], [yy, yy], color="#dedede", lw=1.4, zorder=1)
for j in range(len(t1_head)):
    ov.text(t1_head_x[j], 1922.5, t1_head[j], fontweight="bold", fontsize=14.8, ha="left", va="center", color="#101010", zorder=2)
    ov.text(t1_val_x[j], 1959, t1_row[j], fontsize=14.8, ha=t1_val_ha[j], va="center", color="#101010", zorder=2)

# second table
t2_edges = [64, 248, 477, 602.6, 686, 744, 814, 875, 918]
t2_rows_y = [1999, 2035, 2072, 2109, 2146, 2182, 2218]
t2_head_x = [72.7, 256.4, 486, 611, 691.5, 752, 822, 891]
t2_val_x = [72.7, 256.4, 486, 675.5, 734.6, 806, 866.6, 905.6]
t2_val_ha = ["left", "left", "left", "right", "right", "right", "right", "right"]
ov.add_patch(Rectangle((64, 1999), 854, 36, fc="#f2f2f2", ec="none", zorder=1))
for xx in t2_edges:
    ov.plot([xx, xx], [1999, 2218], color="#e2e2e2", lw=1, zorder=1)
for yy in t2_rows_y:
    ov.plot([64, 918], [yy, yy], color="#dedede", lw=1.4, zorder=1)
for j in range(len(t2_head)):
    ov.text(t2_head_x[j], 2018.5, t2_head[j], fontweight="bold", fontsize=14.8, ha="left", va="center", color="#101010", zorder=2)
fig.canvas.draw()
rend = fig.canvas.get_renderer()
for r, row in enumerate(t2_rows):
    yy = (t2_rows_y[r + 1] + t2_rows_y[r + 2]) / 2 + 1.5
    for j, s in enumerate(row):
        is_link = j == 1
        t = ov.text(t2_val_x[j], yy, s, fontsize=14.8, ha=t2_val_ha[j], va="center", color="#1a0dab" if is_link else "#101010", zorder=2)
        if is_link and s:
            bb = t.get_window_extent(rend)
            ov.plot([bb.x0, bb.x1], [yy + 11, yy + 11], color="#1a0dab", lw=1.2, zorder=2)

# red highlights
RBOX = "#e0202c"
for l, r_, t_, b_ in [(144.5, 328, 1902, 1977), (575.6, 661.7, 1902, 1978), (602.6, 686, 1997, 2220), (875, 919.5, 1997, 2219)]:
    ov.add_patch(Rectangle((l, t_), r_ - l, b_ - t_, fc="none", ec=RBOX, lw=3.2, zorder=4))
ov.add_patch(Ellipse((1137.5, 1491), 79, 107, fc="none", ec="#e8202c", lw=3.4, zorder=4))
ov.add_patch(Ellipse((1204, 2195), 70, 92, fc="none", ec="#e8202c", lw=2.8, zorder=4))

C4 = [Path.MOVETO, Path.CURVE4, Path.CURVE4, Path.CURVE4, Path.CURVE4, Path.CURVE4, Path.CURVE4]
curves = [
    [(921, 2053), (970, 2110), (945, 2150), (1010, 2205), (1100, 2280), (1290, 2275), (1383, 2169)],
    [(921, 2090), (960, 2130), (960, 2175), (1040, 2220), (1120, 2265), (1255, 2295), (1214, 2169)],
    [(921, 2128), (960, 2180), (1000, 2235), (1120, 2268), (1250, 2300), (1400, 2262), (1415, 2169)],
    [(921, 2160), (960, 2170), (1000, 2190), (1030, 2205), (1060, 2220), (1068, 2200), (1068, 2169)],
]
for pts in curves:
    ov.add_patch(PathPatch(Path(pts, C4), fc="none", ec="#e02030", lw=2.2, zorder=4))

arrows = [(1068, 2098, 2169, 10, 19, 30), (1214, 2122, 2169, 10, 15, 22), (1383, 2132, 2169, 10, 17, 17),
          (1415, 2134, 2167, 10, 17, 15), (1204, 2170, 2235, 10, 19, 24)]
for ax_, tip, base, sw, hw, hh in arrows:
    ov.add_patch(Polygon([(ax_, tip), (ax_ + hw / 2, tip + hh), (ax_ + sw / 2, tip + hh), (ax_ + sw / 2, base),
                          (ax_ - sw / 2, base), (ax_ - sw / 2, tip + hh), (ax_ - hw / 2, tip + hh)], fc="#ea1c28", ec="none", zorder=5))

fig.savefig("out.png", dpi=100)
